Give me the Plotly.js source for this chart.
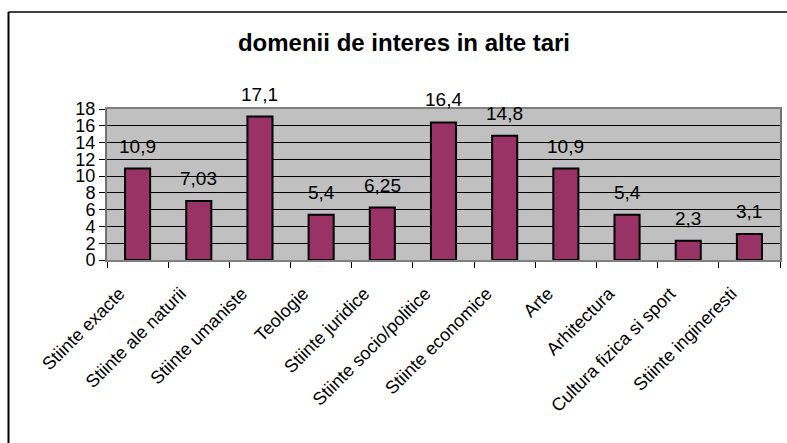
<!DOCTYPE html>
<html>
<head>
<meta charset="utf-8">
<script src="https://cdn.plot.ly/plotly-3.0.1.min.js"></script>
<style>html,body{margin:0;padding:0;background:#fff;}#chart{width:787px;height:443px;}</style>
</head>
<body>
<div id="chart"></div>
<script>
var categories = ["Stiinte exacte", "Stiinte ale naturii", "Stiinte umaniste", "Teologie", "Stiinte juridice", "Stiinte socio/politice", "Stiinte economice", "Arte", "Arhitectura", "Cultura fizica si sport", "Stiinte ingineresti"];
var values = [10.9, 7.03, 17.1, 5.4, 6.25, 16.4, 14.8, 10.9, 5.4, 2.3, 3.1];
var yTicks = [0, 2, 4, 6, 8, 10, 12, 14, 16, 18];
var titleText = "domenii de interes in alte tari";

var font = "Liberation Sans, Arial, sans-serif";
var L = 107, R = 780, T = 109, B = 260, W = 787, H = 443;
var pw = R - L, ph = B - T;
function px(x){ return (x - L) / pw; }
function py(y){ return (B - y) / ph; }

var labels = values.map(function(v){ return String(v).replace('.', ','); });
var annotations = categories.map(function(c, i){
  return {x: c, y: values[i], xref: 'x', yref: 'y', text: labels[i], showarrow: false,
          yanchor: 'bottom', yshift: 10, font: {family: font, size: 19, color: '#000'}};
});

var trace = {
  type: 'bar', x: categories, y: values,
  marker: {color: '#993366', line: {color: '#000', width: 2}},
  hoverinfo: 'none'
};

var layout = {
  width: W, height: H,
  margin: {l: L, r: W - R, t: T, b: H - B, pad: 0},
  paper_bgcolor: '#fff', plot_bgcolor: '#C0C0C0',
  showlegend: false, bargap: 0.59,
  title: {text: '<b>' + titleText + '</b>', font: {family: font, size: 24, color: '#000'},
          x: 404 / W, xref: 'container', xanchor: 'center', y: 1 - 43 / H, yref: 'container', yanchor: 'middle'},
  xaxis: {type: 'category', tickangle: -45, tickson: 'boundaries', ticks: 'outside', ticklen: 6,
          tickcolor: '#000', showgrid: false, showline: true, linecolor: '#808080', linewidth: 2, mirror: true,
          ticklabelstandoff: 14, ticklabelshift: -18,
          tickfont: {family: font, size: 18, color: '#000'}, automargin: false},
  yaxis: {range: [0, 18], tickvals: yTicks, ticktext: yTicks.map(String), ticks: 'outside', ticklen: 6,
          tickcolor: '#000', showgrid: true, gridcolor: '#000', gridwidth: 1, zeroline: false,
          showline: true, linecolor: '#707070', linewidth: 2, mirror: true,
          tickfont: {family: font, size: 18, color: '#000'}, automargin: false},
  annotations: annotations,
  shapes: [
    {type: 'line', xref: 'paper', yref: 'paper', x0: px(8.5), x1: px(800), y0: py(12), y1: py(12), line: {color: '#000', width: 1.5}},
    {type: 'line', xref: 'paper', yref: 'paper', x0: px(8.5), x1: px(8.5), y0: py(12), y1: py(460), line: {color: '#000', width: 2}}
  ]
};

Plotly.newPlot('chart', [trace], layout, {staticPlot: true, displayModeBar: false});
</script>
</body>
</html>
